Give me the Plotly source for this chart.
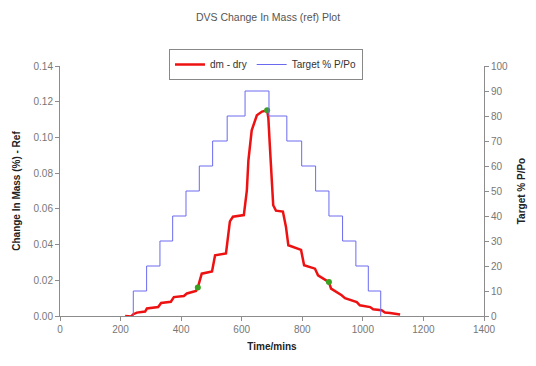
import plotly.graph_objects as go

# Target % P/Po step profile (time in minutes, level in %)
target_time = [242, 286, 330, 372, 416, 460, 504, 552, 611, 690, 749, 798, 844, 888, 933, 977, 1018, 1059, 1059]
target_pct = [10, 20, 30, 40, 50, 60, 70, 80, 90, 80, 70, 60, 50, 40, 30, 20, 10, 0, 0]
target_start_time = [242]
target_start_pct = [0]

# dm - dry (Change In Mass %, ref)
dm_time = [215, 234, 242, 254, 281, 287, 324, 334, 366, 376, 409, 419, 449, 455, 468, 502, 512,
           548, 561, 571, 607, 614, 617, 622, 633, 650, 667, 684,
           688, 693, 699, 704, 713, 736, 746, 754, 796, 806, 842, 852, 888, 895, 930, 941,
           980, 990, 1024, 1034, 1062, 1073, 1090, 1123]
dm_val = [0.0, -0.0003, 0.001, 0.0019, 0.0025, 0.0042, 0.0050, 0.0073, 0.0080, 0.0106, 0.0112, 0.0126,
          0.0140, 0.0159, 0.0237, 0.0250, 0.0340, 0.0350, 0.0530, 0.0556, 0.0565, 0.0650, 0.0704,
          0.087, 0.104, 0.1124, 0.1145, 0.1152,
          0.1107, 0.095, 0.076, 0.062, 0.059, 0.0585, 0.050, 0.0396, 0.037, 0.0284, 0.0265, 0.0228,
          0.019, 0.0153, 0.0116, 0.0100, 0.0078, 0.0060, 0.0050, 0.0038, 0.0032, 0.0020, 0.0017, 0.0008]

# marked points
mark_time = [234, 455, 684, 888]
mark_val = [-0.0005, 0.0159, 0.1152, 0.019]

x_ticks = [0, 200, 400, 600, 800, 1000, 1200, 1400]
y_ticks = [0.00, 0.02, 0.04, 0.06, 0.08, 0.10, 0.12, 0.14]
y2_ticks = [0, 10, 20, 30, 40, 50, 60, 70, 80, 90, 100]

FONT = "Liberation Sans, Arial, sans-serif"
AXIS_GRAY = "#8c8c8c"
TICK_GRAY = "#777777"

fig = go.Figure()
fig.add_trace(go.Scatter(
    x=dm_time, y=dm_val, mode="lines", name="dm - dry",
    line=dict(color="#ee1111", width=2.5), yaxis="y"))
fig.add_trace(go.Scatter(
    x=target_start_time + target_time, y=target_start_pct + target_pct, mode="lines",
    name="Target % P/Po", line=dict(color="#6a6af0", width=1, shape="hv"), yaxis="y2"))
fig.add_trace(go.Scatter(
    x=mark_time, y=mark_val, mode="markers", showlegend=False,
    marker=dict(color="#3aa020", size=6), cliponaxis=False, yaxis="y"))

fig.update_layout(
    width=536, height=366,
    margin=dict(l=60, r=52, t=66, b=50, autoexpand=False),
    paper_bgcolor="white", plot_bgcolor="white",
    font=dict(family=FONT, size=10, color=TICK_GRAY),
    title=dict(text="DVS Change In Mass (ref) Plot", x=0.5, xanchor="center",
               y=1 - 17 / 366, yanchor="middle",
               font=dict(family=FONT, size=10.5, color="#555555")),
    showlegend=True,
    legend=dict(orientation="h", x=(266 - 60) / 424, xanchor="center",
                y=(316 - 49) / 250, yanchor="top",
                bordercolor="#888888", borderwidth=1, bgcolor="white",
                font=dict(family=FONT, size=10, color="#333333"),
                itemwidth=30, tracegroupgap=0),
    xaxis=dict(range=[0, 1400], tickvals=x_ticks, ticktext=[str(v) for v in x_ticks],
               automargin=False,
               showgrid=False, zeroline=False, showline=True, linecolor=AXIS_GRAY, linewidth=1,
               ticks="outside", ticklen=4, tickcolor=AXIS_GRAY,
               tickfont=dict(family=FONT, size=10, color=TICK_GRAY),
               title=dict(text="<b>Time/mins</b>", standoff=8,
                          font=dict(family=FONT, size=10, color="#222222"))),
    yaxis=dict(range=[0, 0.14], tickvals=y_ticks, ticktext=[f"{v:.2f}" for v in y_ticks],
               automargin=False,
               showgrid=False, zeroline=False, showline=True, linecolor=AXIS_GRAY, linewidth=1,
               ticks="outside", ticklen=4, tickcolor=AXIS_GRAY,
               tickfont=dict(family=FONT, size=10, color=TICK_GRAY),
               title=dict(text="<b>Change In Mass (%) - Ref</b>", standoff=11,
                          font=dict(family=FONT, size=10, color="#222222"))),
    yaxis2=dict(range=[0, 100], tickvals=y2_ticks, ticktext=[str(v) for v in y2_ticks],
                overlaying="y", side="right", automargin=False,
                showgrid=False, zeroline=False, showline=True, linecolor=AXIS_GRAY, linewidth=1,
                ticks="outside", ticklen=4, tickcolor=AXIS_GRAY,
                tickfont=dict(family=FONT, size=10, color=TICK_GRAY),
                title=dict(text="<b>Target % P/Po</b>", standoff=10,
                           font=dict(family=FONT, size=10, color="#222222"))),
)

fig.write_html("out.html", config={"displayModeBar": False},
               post_script="document.body.style.margin='0';")
